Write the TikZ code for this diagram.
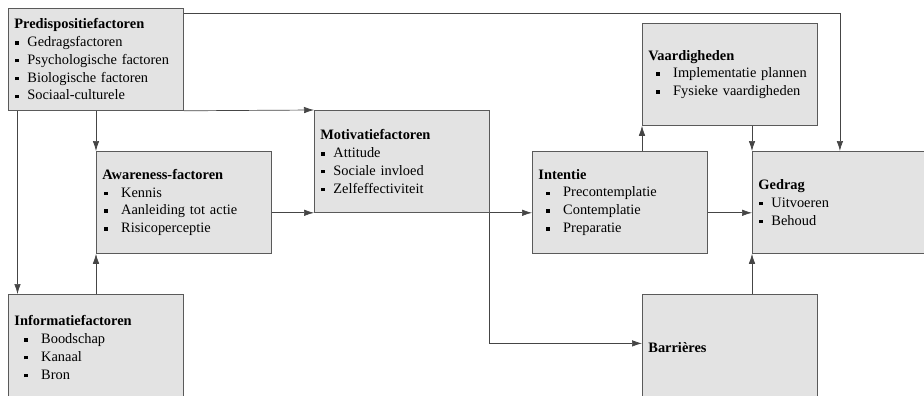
\documentclass[tikz,border=0pt]{standalone}
\usepackage{fontspec}
\setmainfont{Liberation Serif}
\usetikzlibrary{arrows.meta}

\definecolor{boxfill}{HTML}{E3E3E3}
\definecolor{boxline}{HTML}{5A5A5A}
\definecolor{linegray}{HTML}{454545}

% square bullet, optional indent
\newcommand{\bul}[1][1pt]{\hspace*{#1}\makebox[12pt][l]{\raisebox{0.3ex}{\rule{3.4pt}{3.4pt}}}}

\begin{document}
\begin{tikzpicture}[x=1pt,y=-1pt,
  box/.style={draw=boxline,fill=boxfill,line width=0.8pt,anchor=north west,
    minimum width=175pt,minimum height=102pt,text width=163pt,inner sep=6pt,
    align=left,font=\fontsize{14.4}{17.8}\selectfont},
  lowbox/.style={box,minimum height=106pt},
  conn/.style={draw=linegray,line width=0.7pt,-{Latex[length=10pt,width=6.5pt]}}]
\useasboundingbox (0,0) rectangle (924,396);

\node[box] (pre) at (8,8) {\textbf{Predispositiefactoren}\\
  \bul Gedragsfactoren\\ \bul Psychologische factoren\\
  \bul Biologische factoren\\ \bul Sociaal-culturele};
\node[box] (awa) at (96,151) {\textbf{Awareness-factoren}\\
  \bul[2pt] Kennis\\ \bul[2pt] Aanleiding tot actie\\ \bul[2pt] Risicoperceptie};
\node[lowbox] (inf) at (8,294) {\textbf{Informatiefactoren}\\
  \bul[10pt] Boodschap\\ \bul[10pt] Kanaal\\ \bul[10pt] Bron};
\node[box] (mot) at (314,110) {\textbf{Motivatiefactoren}\\
  \bul Attitude\\ \bul Sociale invloed\\ \bul Zelfeffectiviteit};
\node[box] (int) at (532,151) {\textbf{Intentie}\\
  \bul[8pt] Precontemplatie\\ \bul[8pt] Contemplatie\\ \bul[8pt] Preparatie};
\node[box] (vaa) at (642,23) {\textbf{Vaardigheden}\\
  \bul[8pt] Implementatie plannen\\ \bul[8pt] Fysieke vaardigheden};
\node[box] (ged) at (752,151) {\textbf{Gedrag}\\
  \bul Uitvoeren\\ \bul Behoud};
\node[lowbox] (bar) at (642,294) {\textbf{Barrières}};

\draw[conn] ([xshift=9.5pt]pre.south west) -- ([xshift=9.5pt]inf.north west);
\draw[conn] (awa.north west |- pre.south) -- (awa.north west);
\draw[conn] (awa.south west |- inf.north) -- (awa.south west);
\draw[conn] (pre.south east) -- (mot.north west);
\draw[conn] (mot.south west -| awa.east) -- (mot.south west);
\draw[conn] (mot.south east) -- (int.west |- mot.south);
\draw[conn] (mot.south east) |- ([yshift=4pt]bar.west);
\draw[conn] (int.north -| vaa.south west) -- (vaa.south west);
\draw[conn] (vaa.south -| ged.north west) -- (ged.north west);
\draw[conn] (int.east |- mot.south) -- (ged.west |- mot.south);
\draw[conn] (bar.north -| ged.south west) -- (ged.south west);
\draw[conn] ([yshift=-5pt]pre.north east) -| (ged.north);
\end{tikzpicture}
\end{document}
